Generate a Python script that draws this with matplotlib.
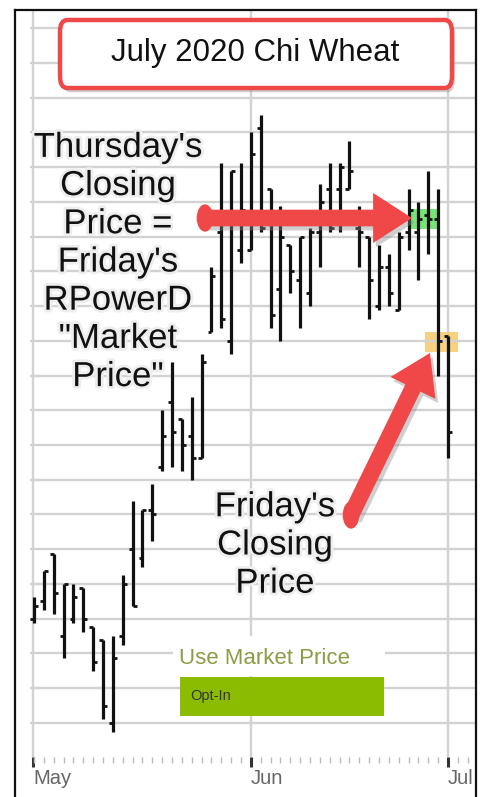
import numpy as np
import matplotlib
matplotlib.use("Agg")
import matplotlib.pyplot as plt
import matplotlib.patheffects as pe
from matplotlib.lines import Line2D
from matplotlib.patches import Rectangle, FancyBboxPatch, FancyArrowPatch, Circle

plt.rcParams["font.family"] = ["Liberation Sans", "DejaVu Sans"]

# OHLC bars, July 2020 Chicago wheat (cents), one per trading session
opens = [492.0, 493.0, 495.75, 491.0, 492.0, 493.75, 491.5, 490.75, 486.0, 491.0,
         496.0, 495.5, 498.25, 500.75, 504.5, 503.5, 502.5, 501.25, 508.5, 514.25,
         508.0, 513.25, 513.25, 520.25, 516.75, 511.0, 513.5, 511.5, 510.75, 514.25,
         516.75, 516.75, 516.75, 514.5, 514.0, 510.0, 512.25, 509.75, 514.25, 514.25,
         515.25, 515.0, 508.25]
highs = [493.25, 494.75, 495.75, 494.0, 494.0, 493.75, 491.5, 490.75, 491.0, 494.5,
         498.75, 498.25, 499.75, 504.0, 506.75, 503.5, 504.75, 507.25, 512.25, 518.25,
         517.75, 518.25, 520.0, 521.0, 516.75, 515.75, 513.5, 514.0, 514.5, 517.0,
         518.25, 518.25, 519.5, 515.75, 514.0, 513.5, 513.0, 514.25, 516.75, 516.0,
         517.75, 516.75, 508.25]
lows = [491.75, 492.5, 492.25, 489.75, 491.75, 491.25, 489.0, 486.25, 485.5, 490.5,
        492.75, 495.0, 496.5, 500.5, 500.75, 500.5, 500.0, 501.25, 508.5, 508.75,
        507.25, 512.5, 513.25, 514.25, 508.75, 508.0, 510.75, 508.75, 510.0, 512.25,
        514.25, 514.25, 516.75, 512.25, 509.25, 509.75, 510.0, 509.75, 513.25, 511.5,
        513.0, 506.0, 501.25]
closes = [492.75, 494.75, 493.5, 494.0, 493.25, 492.0, 489.5, 487.0, 489.75, 494.0,
          492.75, 498.25, 498.0, 502.5, 502.75, 502.0, 501.25, 506.75, 511.75, 509.25,
          517.75, 515.5, 518.75, 514.5, 509.5, 514.0, 512.0, 514.0, 514.25, 516.0,
          514.5, 518.0, 517.75, 514.25, 511.5, 512.25, 510.75, 514.0, 515.5, 515.0,
          515.0, 508.0, 502.75]

month_pos = [-0.1, 22, 42]
month_labels = ["May", "Jun", "Jul"]
thursday_idx = 40
friday_idx = 41

W, H = 485, 797
RED = "#f04848"


def fpx(x, y):
    """screen pixel (top-left origin) -> figure fraction"""
    return x / W, 1 - y / H


x = np.arange(len(opens))

fig = plt.figure(figsize=(W / 100, H / 100), dpi=100)
ax = fig.add_axes([30 / W, 1 - 757 / H, 445 / W, 747 / H])
ax.set_xlim(-0.41, 44.74)
ax.set_ylim(484.04, 527.04)

# grid
ax.set_yticks(np.arange(486, 527, 2))
ax.tick_params(axis="y", left=False, labelleft=False)
ax.grid(axis="y", color="#d2d2d2", lw=1.7, zorder=0)
for m in month_pos:
    ax.axvline(m, color="#d2d2d2", lw=1.7, zorder=0)
for s in ax.spines.values():
    s.set_visible(False)

# month ticks
ax.set_xticks(month_pos)
ax.set_xticklabels(month_labels, ha="left", color="#666666", fontsize=14.5)
ax.set_xticks(np.arange(0, 45), minor=True)
ax.tick_params(axis="x", which="major", length=7, width=2.2, color="#333333", pad=2)
ax.tick_params(axis="x", which="minor", length=4, width=1, color="#bbbbbb")

# highlight boxes
ax.add_patch(Rectangle((thursday_idx - 1.85, closes[thursday_idx] - 0.58), 3.05, 1.15,
                       color="#5fe05f", alpha=0.85, lw=0, zorder=1))
ax.add_patch(Rectangle((friday_idx - 1.35, closes[friday_idx] - 0.65), 3.35, 1.15,
                       color="#f6c86a", alpha=0.85, lw=0, zorder=1))

# OHLC bars
ax.vlines(x, lows, highs, color="#111111", lw=2.3, zorder=3)
ax.hlines(opens, x - 0.4, x, color="#111111", lw=2, zorder=3)
ax.hlines(closes, x, x + 0.4, color="#111111", lw=2, zorder=3)

# title box
shadow = [pe.SimplePatchShadow(offset=(2, -3), shadow_rgbFace="#888888", alpha=0.4), pe.Normal()]
x0, y0 = fpx(60, 88)
x1, y1 = fpx(452, 20)
title_box = FancyBboxPatch((x0, y0), x1 - x0, y1 - y0, transform=fig.transFigure,
                           boxstyle="round,pad=0,rounding_size=0.015",
                           fc="white", ec=RED, lw=3.2, zorder=5)
title_box.set_path_effects(shadow)
fig.add_artist(title_box)
fig.text(*fpx(255, 53), "July 2020 Chi Wheat", ha="center", va="center",
         fontsize=22.5, color="#111111", zorder=6)

# annotation texts
halo = [pe.withStroke(linewidth=4, foreground="#eeeeee")]
fig.text(*fpx(118, 262), "Thursday's\nClosing\nPrice =\nFriday's\nRPowerD\n\"Market\nPrice\"",
         ha="center", va="center", fontsize=25, linespacing=1.2, color="#111111",
         path_effects=halo, zorder=6)
fig.text(*fpx(275, 545), "Friday's\nClosing\nPrice", ha="center", va="center",
         fontsize=25, linespacing=1.2, color="#111111", path_effects=halo, zorder=6)

# arrows (tail is rounded)
for tail, tip in [((205, 218), (412, 218)), ((351, 515), (430, 353))]:
    arr = FancyArrowPatch(fpx(*tail), fpx(*tip), transform=fig.transFigure,
                          arrowstyle="simple,head_length=28,head_width=36,tail_width=12",
                          mutation_scale=1, shrinkA=0, shrinkB=0,
                          fc=RED, ec="none", zorder=7)
    arr.set_path_effects(shadow)
    fig.add_artist(arr)
    fig.add_artist(Circle(fpx(*tail), 8.3 / W, transform=fig.transFigure,
                          fc=RED, ec="none", zorder=7))

# "Use Market Price" widget
bx0, by0 = fpx(173, 676)
bx1, by1 = fpx(385, 636)
fig.add_artist(Rectangle((bx0, by0), bx1 - bx0, by1 - by0, transform=fig.transFigure,
                         fc="white", ec="none", zorder=4))
fig.text(*fpx(179, 658), "Use Market Price", ha="left", va="center",
         fontsize=16, color="#8f9a45", zorder=5)
gx0, gy0 = fpx(180, 716)
gx1, gy1 = fpx(384, 677)
fig.add_artist(Rectangle((gx0, gy0), gx1 - gx0, gy1 - gy0, transform=fig.transFigure,
                         fc="#8cbc00", ec="none", zorder=5))
fig.text(*fpx(190, 696), "Opt-In", ha="left", va="center", fontsize=10.5,
         color="#333333", zorder=6)

# outer frame
for xs, ys in [([15, 15], [797, 10]), ([15, 476], [10, 10]), ([476, 476], [10, 797])]:
    fx, fy = zip(*[fpx(a, b) for a, b in zip(xs, ys)])
    fig.add_artist(Line2D(fx, fy, color="#111111", lw=1.6, transform=fig.transFigure))

fig.savefig("out.png", dpi=100)
